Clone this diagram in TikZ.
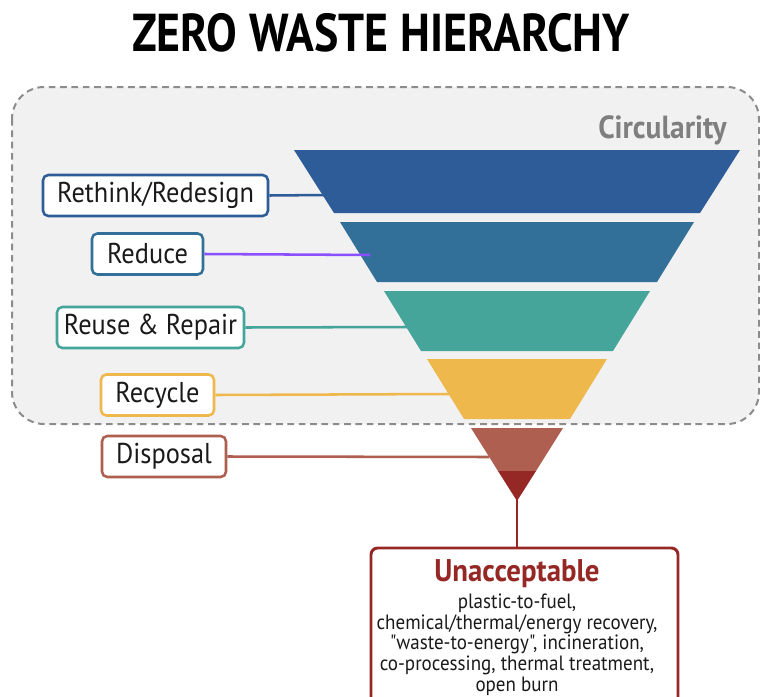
\documentclass[tikz,border=0pt]{standalone}
\usepackage{fontspec}
\setmainfont{PT Sans}
\newfontfamily\titlefont[FakeStretch=0.86]{PT Sans}
\newfontfamily\labfont[FakeStretch=0.92]{PT Sans}
\definecolor{cblue}{HTML}{2E5C99}
\definecolor{cblueb}{HTML}{337099}
\definecolor{cteal}{HTML}{46A59B}
\definecolor{cyell}{HTML}{EEB84C}
\definecolor{cbrown}{HTML}{AE5F4F}
\definecolor{cred}{HTML}{952724}
\definecolor{cpurp}{HTML}{8A4FFF}
\definecolor{cbg}{HTML}{F1F1F1}
\definecolor{cdash}{HTML}{8C8C8C}
\definecolor{cgraytxt}{HTML}{7F7F7F}
\definecolor{ctext}{HTML}{1A1A1A}
\begin{document}
\begin{tikzpicture}[x=0.75pt,y=-0.75pt,
  lab/.style={draw=#1,line width=1.9pt,rounded corners=4pt,fill=white,
    inner sep=0pt,font=\labfont\fontsize{21.5}{24}\selectfont,text=ctext},
  conn/.style={draw=#1,line width=1.9pt}]
\useasboundingbox (0,0) rectangle (760,696);
\clip (0,0) rectangle (760,696);
% title
\node (title) at (381,33) {\titlefont\bfseries\fontsize{40}{46}\selectfont ZERO WASTE HIERARCHY};
% circularity region
\draw[cdash,fill=cbg,line width=1.5pt,dash pattern=on 5pt off 3.5pt,rounded corners=24pt]
  (12,87) rectangle (759,424);
\node[anchor=east,inner sep=0pt,text=cgraytxt,font=\labfont\bfseries\fontsize{24}{28}\selectfont] (circ) at (727,130) {Circularity};
% funnel
\fill[cblue]  (294,150) -- (740,150) -- (700,213) -- (334,213) -- cycle;
\fill[cblueb] (340,222) -- (694,222) -- (657,282) -- (377,282) -- cycle;
\fill[cteal]  (384,291) -- (650,291) -- (613,351) -- (421,351) -- cycle;
\fill[cyell]  (427,359) -- (607,359) -- (570,419) -- (464,419) -- cycle;
\fill[cbrown] (471,428) -- (563,428) -- (536,471) -- (498,471) -- cycle;
\fill[cred]   (498,471) -- (536,471) -- (517,501) -- cycle;
\coordinate (apex) at (517,499);
\coordinate (e1) at (324,195);
\coordinate (e2) at (370,255);
\coordinate (e3) at (407,327);
\coordinate (e4) at (449,394);
\coordinate (e5) at (489,457);
% labels
\node[lab=cblue,minimum width={225*0.75pt},minimum height={41*0.75pt}] (rethink) at (155.5,195.5) {Rethink/Redesign};
\node[lab=cblueb,minimum width={111*0.75pt},minimum height={41*0.75pt}] (reduce) at (147.5,254) {Reduce};
\node[lab=cteal,minimum width={187*0.75pt},minimum height={41*0.75pt}] (reuse) at (150.5,327.5) {Reuse \& Repair};
\node[lab=cyell,minimum width={113*0.75pt},minimum height={41*0.75pt}] (recycle) at (157.5,395) {Recycle};
\node[lab=cbrown,minimum width={124*0.75pt},minimum height={41*0.75pt}] (disposal) at (164,456.5) {Disposal};
% connectors
\draw[conn=cblue] (rethink.east) -- (e1);
\draw[conn=cpurp] (reduce.east) -- (e2);
\draw[conn=cteal] (reuse.east) -- (e3);
\draw[conn=cyell] (recycle.east) -- (e4);
\draw[conn=cbrown] (disposal.east) -- (e5);
% unacceptable box
\draw[cred,line width=2.2pt,fill=white,rounded corners=5pt] (371,548) rectangle (678,730);
\coordinate (boxtop) at (517,548);
\draw[cred,line width=2.2pt] (apex) -- (boxtop);
\node[text=cred,font=\labfont\bfseries\fontsize{23.5}{26}\selectfont] (unacc) at (517,574) {Unacceptable};
\node[anchor=north,align=center,text=ctext,font=\labfont\fontsize{15.5}{15.4}\selectfont,inner sep=0pt] (list) at (517,594)
 {plastic-to-fuel,\\chemical/thermal/energy recovery,\\"waste-to-energy", incineration,\\co-processing, thermal treatment,\\open burn};
\end{tikzpicture}
\end{document}
